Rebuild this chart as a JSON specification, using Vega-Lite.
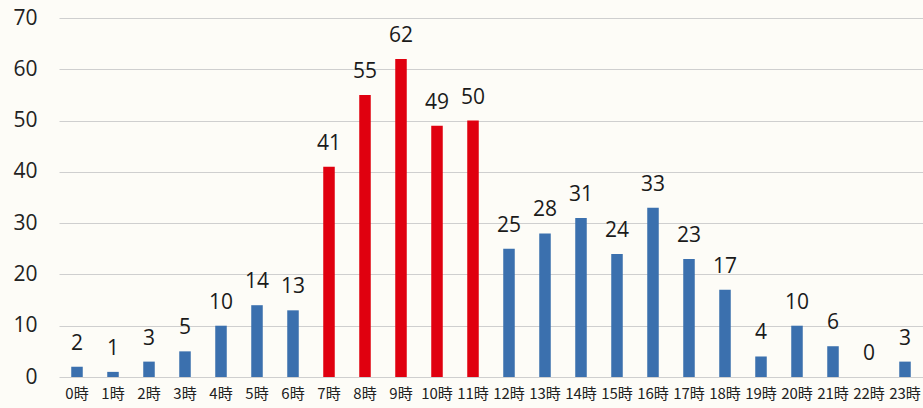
{
  "$schema": "https://vega.github.io/schema/vega-lite/v6.json",
  "autosize": "none",
  "width": 864,
  "height": 359,
  "padding": {"left": 59, "top": 18, "right": 0, "bottom": 31},
  "background": "#fdfcf7",
  "config": {"view": {"stroke": null}, "font": "Open Sans"},
  "data": {
    "values": [
      {"hour": "0時", "count": 2, "peak": "no"},
      {"hour": "1時", "count": 1, "peak": "no"},
      {"hour": "2時", "count": 3, "peak": "no"},
      {"hour": "3時", "count": 5, "peak": "no"},
      {"hour": "4時", "count": 10, "peak": "no"},
      {"hour": "5時", "count": 14, "peak": "no"},
      {"hour": "6時", "count": 13, "peak": "no"},
      {"hour": "7時", "count": 41, "peak": "yes"},
      {"hour": "8時", "count": 55, "peak": "yes"},
      {"hour": "9時", "count": 62, "peak": "yes"},
      {"hour": "10時", "count": 49, "peak": "yes"},
      {"hour": "11時", "count": 50, "peak": "yes"},
      {"hour": "12時", "count": 25, "peak": "no"},
      {"hour": "13時", "count": 28, "peak": "no"},
      {"hour": "14時", "count": 31, "peak": "no"},
      {"hour": "15時", "count": 24, "peak": "no"},
      {"hour": "16時", "count": 33, "peak": "no"},
      {"hour": "17時", "count": 23, "peak": "no"},
      {"hour": "18時", "count": 17, "peak": "no"},
      {"hour": "19時", "count": 4, "peak": "no"},
      {"hour": "20時", "count": 10, "peak": "no"},
      {"hour": "21時", "count": 6, "peak": "no"},
      {"hour": "22時", "count": 0, "peak": "no"},
      {"hour": "23時", "count": 3, "peak": "no"}
    ]
  },
  "encoding": {
    "x": {
      "field": "hour", "type": "nominal", "sort": null,
      "scale": {"paddingInner": 0.68, "paddingOuter": 0.34},
      "axis": {"title": null, "labelAngle": 0, "domain": false, "ticks": false, "labelPadding": 9, "labelFontSize": 15, "labelColor": "#222", "labelFont": "Noto Sans CJK JP"}
    },
    "y": {
      "field": "count", "type": "quantitative",
      "scale": {"domain": [0, 70], "nice": false},
      "axis": {"title": null, "values": [0, 10, 20, 30, 40, 50, 60, 70], "domain": false, "ticks": false, "labelPadding": 22, "labelFontSize": 21, "labelColor": "#222", "gridColor": "#cfcfcf", "gridWidth": 1}
    }
  },
  "layer": [
    {
      "mark": {"type": "bar"},
      "encoding": {
        "color": {
          "field": "peak", "type": "nominal",
          "scale": {"domain": ["no", "yes"], "range": ["#3b70ae", "#e0000f"]},
          "legend": null
        }
      }
    },
    {
      "mark": {"type": "text", "baseline": "bottom", "dy": -13, "fontSize": 21, "color": "#1a1a1a"},
      "encoding": {"text": {"field": "count", "type": "quantitative"}}
    }
  ]
}
